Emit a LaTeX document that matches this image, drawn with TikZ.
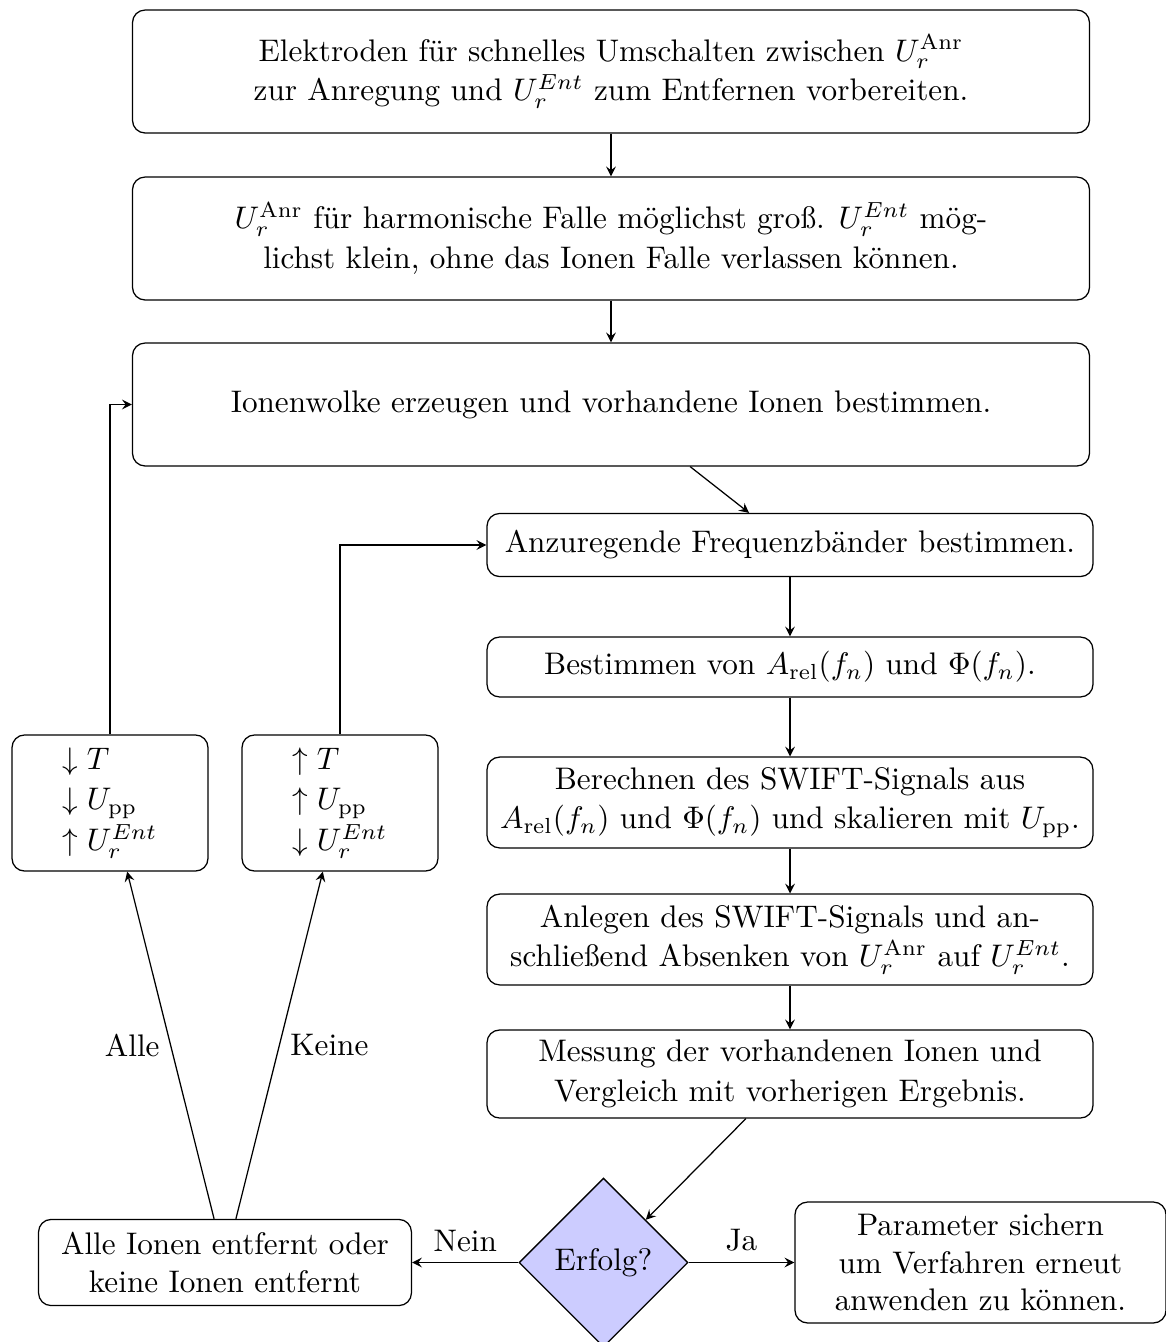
\documentclass[tikz,border=0pt]{standalone}
\usetikzlibrary{shapes.geometric,arrows,calc}
\begin{document}
\begin{tikzpicture}[x=0.3205pt,y=-0.3205pt,>=stealth,
  bigbox/.style={draw, rounded corners, align=center, minimum width=306.7pt, minimum height=39.4pt, inner sep=0pt},
  rbox/.style={draw, rounded corners, align=center, minimum width=194.2pt, inner sep=0pt},
  sidebox/.style={draw, rounded corners, align=left, minimum width=62.8pt, minimum height=43.6pt, inner sep=0pt},
  decision/.style={draw, diamond, aspect=1, fill=blue!20, minimum width=54.1pt, minimum height=54.1pt, inner sep=0pt},
  conn/.style={->}]
\useasboundingbox (0,0) rectangle (1166,1342);

\node[bigbox] (b1) at (611,71.5) {Elektroden für schnelles Umschalten zwischen $U_r^{\mathrm{Anr}}$\\[0.6pt]zur Anregung und $U_r^{Ent}$ zum Entfernen vorbereiten.};
\node[bigbox] (b2) at (611,238.5) {$U_r^{\mathrm{Anr}}$ für harmonische Falle möglichst groß. $U_r^{Ent}$ mög-\\[0.6pt]lichst klein, ohne das Ionen Falle verlassen können.};
\node[bigbox] (b3) at (611,404.5) {Ionenwolke erzeugen und vorhandene Ionen bestimmen.};

\node[rbox, minimum height=20.2pt] (b4) at (790,545) {Anzuregende Frequenzbänder bestimmen.};
\node[rbox, minimum height=19.2pt] (b5) at (790,667) {Bestimmen von $A_{\mathrm{rel}}(f_n)$ und $\Phi(f_n)$.};
\node[rbox, minimum height=29.1pt] (b6) at (790,802.5) {Berechnen des SWIFT-Signals aus\\[0.6pt]$A_{\mathrm{rel}}(f_n)$ und $\Phi(f_n)$ und skalieren mit $U_{\mathrm{pp}}$.};
\node[rbox, minimum height=29.1pt] (b7) at (790,939.5) {Anlegen des SWIFT-Signals und an-\\[0.6pt]schließend Absenken von $U_r^{\mathrm{Anr}}$ auf $U_r^{Ent}$.};
\node[rbox, minimum height=28.2pt] (b8) at (790,1074) {Messung der vorhandenen Ionen und\\[0.6pt]Vergleich mit vorherigen Ergebnis.};

\node[decision] (d) at (603.5,1262.5) {Erfolg?};
\node[draw, rounded corners, align=center, minimum width=118.9pt, minimum height=38.75pt, inner sep=0pt] (b9) at (980.5,1262.5) {Parameter sichern\\um Verfahren erneut\\anwenden zu können.};
\node[draw, rounded corners, align=center, minimum width=119.5pt, minimum height=27.6pt, inner sep=0pt] (b10) at (225,1262.5) {Alle Ionen entfernt oder\\keine Ionen entfernt};

\node[sidebox] (b11) at (110,803) {$\downarrow T$\\[1pt]$\downarrow U_{\mathrm{pp}}$\\[1pt]$\uparrow U_r^{Ent}$};
\node[sidebox] (b12) at (340,803) {$\uparrow T$\\[1pt]$\uparrow U_{\mathrm{pp}}$\\[1pt]$\downarrow U_r^{Ent}$};

\draw[conn] (b1) -- (b2);
\draw[conn] (b2) -- (b3);
\draw[conn] (b3) -- (b4);
\draw[conn] (b4) -- (b5);
\draw[conn] (b5) -- (b6);
\draw[conn] (b6) -- (b7);
\draw[conn] (b7) -- (b8);
\draw[conn] (b8) -- (d);
\draw[conn] (d) -- node[above] {Ja} (b9);
\draw[conn] (d) -- node[above] {Nein} (b10);
\draw[conn] (b10) -- node[midway,left] {Alle} (b11);
\draw[conn] (b10) -- node[midway,right] {Keine} (b12);
\draw[conn] (b11.north) |- (b3.west);
\draw[conn] (b12.north) |- (b4.west);
\end{tikzpicture}
\end{document}
